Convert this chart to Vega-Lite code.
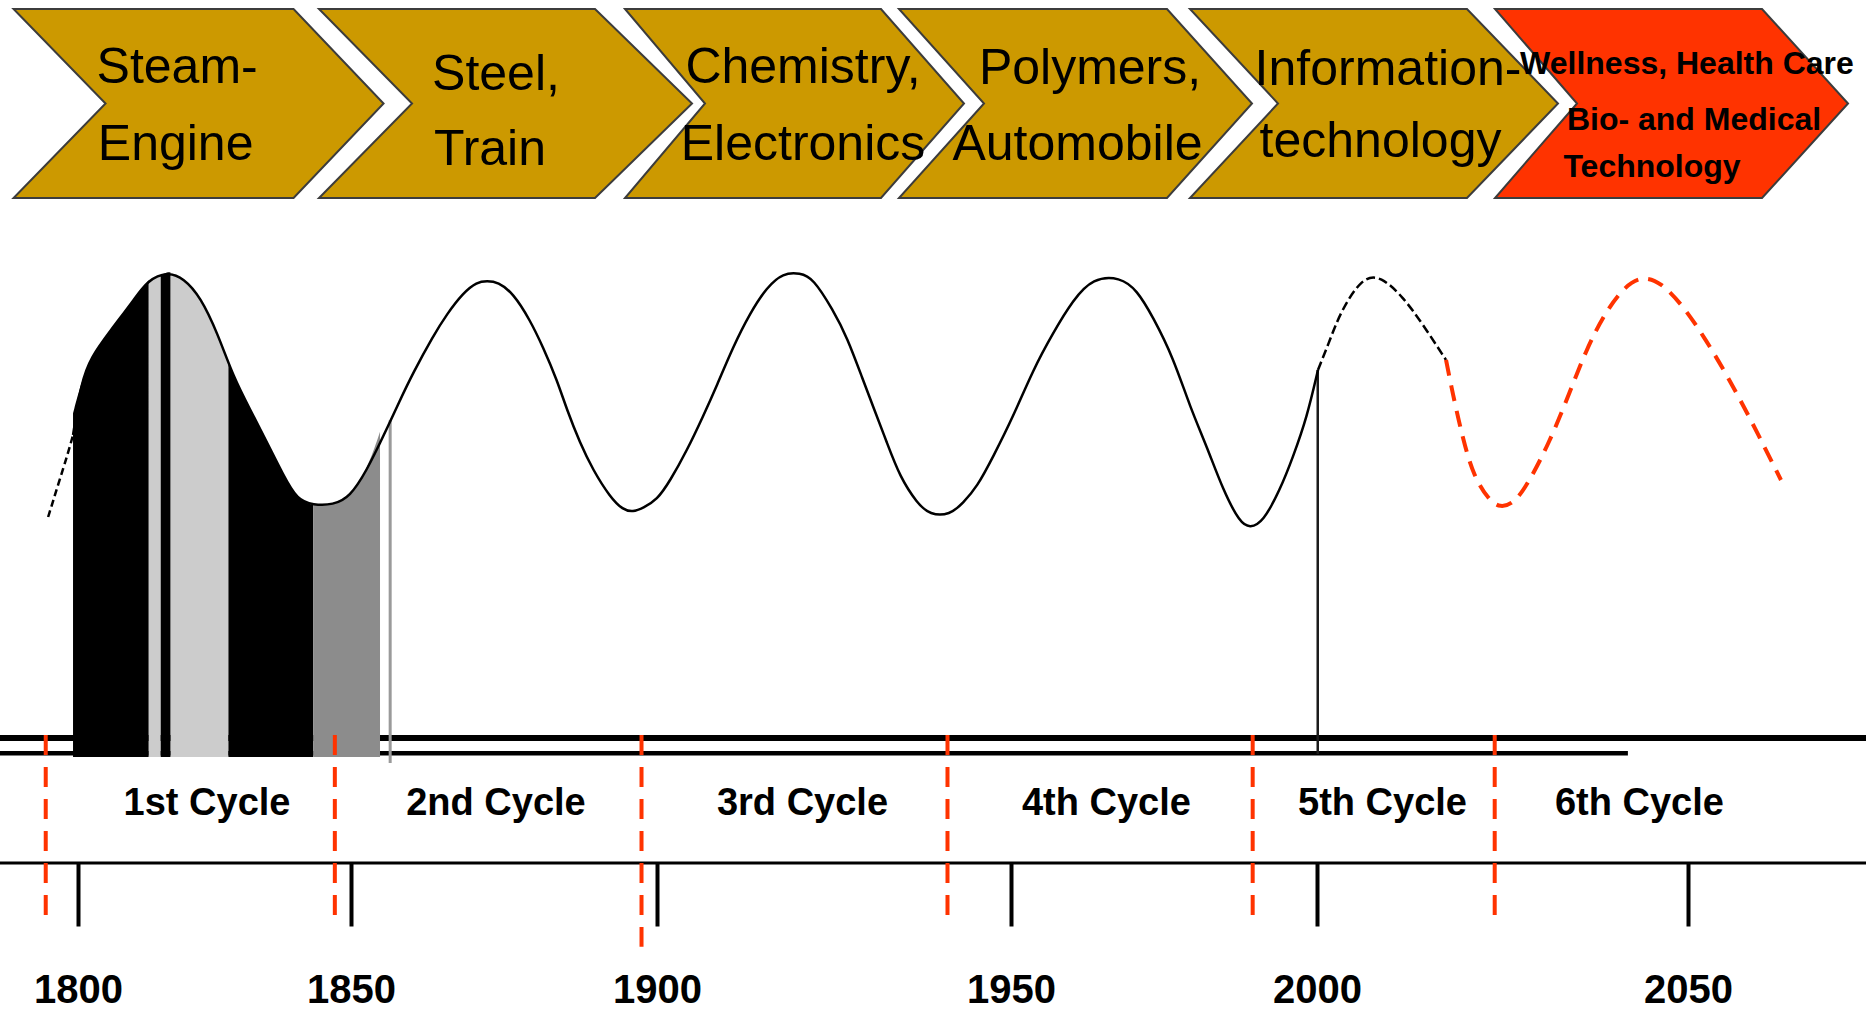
{
  "$schema": "https://vega.github.io/schema/vega-lite/v6.json",
  "width": 1866,
  "height": 1012,
  "autosize": {"type": "none"},
  "padding": 0,
  "background": "white",
  "config": {"view": {"stroke": null}},
  "datasets": {
    "wave": [
      {"year": 1794.53, "level": 47.63, "segment": "pre"},
      {"year": 1796.35, "level": 54.53, "segment": "pre"},
      {"year": 1798.18, "level": 61.42, "segment": "pre"},
      {"year": 1799.09, "level": 65.30, "segment": "pre"},
      {"year": 1799.09, "level": 65.30, "segment": "main"},
      {"year": 1800.55, "level": 76.51, "segment": "main"},
      {"year": 1802.37, "level": 82.11, "segment": "main"},
      {"year": 1806.02, "level": 87.93, "segment": "main"},
      {"year": 1810.22, "level": 94.40, "segment": "main"},
      {"year": 1812.77, "level": 98.71, "segment": "main"},
      {"year": 1816.42, "level": 100.43, "segment": "main"},
      {"year": 1819.34, "level": 99.14, "segment": "main"},
      {"year": 1822.45, "level": 95.04, "segment": "main"},
      {"year": 1825.55, "level": 87.28, "segment": "main"},
      {"year": 1828.47, "level": 77.80, "segment": "main"},
      {"year": 1831.57, "level": 70.69, "segment": "main"},
      {"year": 1834.67, "level": 63.58, "segment": "main"},
      {"year": 1837.59, "level": 56.68, "segment": "main"},
      {"year": 1840.15, "level": 51.29, "segment": "main"},
      {"year": 1843.07, "level": 50.22, "segment": "main"},
      {"year": 1846.72, "level": 50.22, "segment": "main"},
      {"year": 1849.82, "level": 51.94, "segment": "main"},
      {"year": 1852.61, "level": 57.76, "segment": "main"},
      {"year": 1855.23, "level": 64.87, "segment": "main"},
      {"year": 1858.01, "level": 72.84, "segment": "main"},
      {"year": 1860.13, "level": 78.66, "segment": "main"},
      {"year": 1863.40, "level": 86.60, "segment": "main"},
      {"year": 1865.69, "level": 91.40, "segment": "main"},
      {"year": 1868.30, "level": 95.91, "segment": "main"},
      {"year": 1870.59, "level": 98.28, "segment": "main"},
      {"year": 1872.22, "level": 98.49, "segment": "main"},
      {"year": 1874.02, "level": 98.28, "segment": "main"},
      {"year": 1876.47, "level": 95.91, "segment": "main"},
      {"year": 1879.25, "level": 90.09, "segment": "main"},
      {"year": 1881.37, "level": 84.27, "segment": "main"},
      {"year": 1883.66, "level": 77.16, "segment": "main"},
      {"year": 1885.29, "level": 70.69, "segment": "main"},
      {"year": 1887.42, "level": 63.58, "segment": "main"},
      {"year": 1889.54, "level": 57.76, "segment": "main"},
      {"year": 1892.32, "level": 51.94, "segment": "main"},
      {"year": 1894.44, "level": 49.14, "segment": "main"},
      {"year": 1896.08, "level": 48.71, "segment": "main"},
      {"year": 1897.71, "level": 49.57, "segment": "main"},
      {"year": 1900.00, "level": 51.29, "segment": "main"},
      {"year": 1901.84, "level": 55.40, "segment": "main"},
      {"year": 1904.24, "level": 62.00, "segment": "main"},
      {"year": 1906.50, "level": 69.30, "segment": "main"},
      {"year": 1908.47, "level": 76.00, "segment": "main"},
      {"year": 1910.73, "level": 84.27, "segment": "main"},
      {"year": 1913.14, "level": 91.59, "segment": "main"},
      {"year": 1915.54, "level": 97.20, "segment": "main"},
      {"year": 1917.80, "level": 100.22, "segment": "main"},
      {"year": 1920.20, "level": 100.22, "segment": "main"},
      {"year": 1922.03, "level": 99.14, "segment": "main"},
      {"year": 1924.86, "level": 92.24, "segment": "main"},
      {"year": 1926.84, "level": 86.42, "segment": "main"},
      {"year": 1929.10, "level": 77.16, "segment": "main"},
      {"year": 1930.51, "level": 71.50, "segment": "main"},
      {"year": 1932.49, "level": 63.58, "segment": "main"},
      {"year": 1934.32, "level": 56.25, "segment": "main"},
      {"year": 1936.72, "level": 50.65, "segment": "main"},
      {"year": 1938.56, "level": 48.06, "segment": "main"},
      {"year": 1941.38, "level": 48.06, "segment": "main"},
      {"year": 1943.22, "level": 50.65, "segment": "main"},
      {"year": 1945.20, "level": 54.09, "segment": "main"},
      {"year": 1947.46, "level": 60.56, "segment": "main"},
      {"year": 1950.33, "level": 69.18, "segment": "main"},
      {"year": 1953.59, "level": 79.31, "segment": "main"},
      {"year": 1956.86, "level": 87.28, "segment": "main"},
      {"year": 1960.13, "level": 94.40, "segment": "main"},
      {"year": 1963.40, "level": 99.14, "segment": "main"},
      {"year": 1967.81, "level": 99.35, "segment": "main"},
      {"year": 1970.59, "level": 96.55, "segment": "main"},
      {"year": 1973.20, "level": 90.73, "segment": "main"},
      {"year": 1976.47, "level": 82.11, "segment": "main"},
      {"year": 1979.25, "level": 71.34, "segment": "main"},
      {"year": 1982.03, "level": 62.72, "segment": "main"},
      {"year": 1984.64, "level": 53.45, "segment": "main"},
      {"year": 1987.42, "level": 46.34, "segment": "main"},
      {"year": 1989.05, "level": 45.26, "segment": "main"},
      {"year": 1991.18, "level": 46.55, "segment": "main"},
      {"year": 1993.95, "level": 53.45, "segment": "main"},
      {"year": 1996.08, "level": 60.56, "segment": "main"},
      {"year": 1998.37, "level": 69.18, "segment": "main"},
      {"year": 2000.13, "level": 79.31, "segment": "main"},
      {"year": 2000.13, "level": 79.31, "segment": "late"},
      {"year": 2001.75, "level": 85.78, "segment": "late"},
      {"year": 2003.10, "level": 91.59, "segment": "late"},
      {"year": 2006.06, "level": 99.35, "segment": "late"},
      {"year": 2008.63, "level": 99.57, "segment": "late"},
      {"year": 2011.59, "level": 95.04, "segment": "late"},
      {"year": 2014.15, "level": 89.44, "segment": "late"},
      {"year": 2017.39, "level": 81.47, "segment": "late"},
      {"year": 2017.39, "level": 81.47, "segment": "forecast"},
      {"year": 2018.19, "level": 75.00, "segment": "forecast"},
      {"year": 2019.68, "level": 64.22, "segment": "forecast"},
      {"year": 2021.16, "level": 56.25, "segment": "forecast"},
      {"year": 2023.18, "level": 51.29, "segment": "forecast"},
      {"year": 2024.66, "level": 49.57, "segment": "forecast"},
      {"year": 2026.68, "level": 50.65, "segment": "forecast"},
      {"year": 2028.71, "level": 55.60, "segment": "forecast"},
      {"year": 2031.27, "level": 63.58, "segment": "forecast"},
      {"year": 2033.83, "level": 73.49, "segment": "forecast"},
      {"year": 2036.25, "level": 83.62, "segment": "forecast"},
      {"year": 2038.81, "level": 91.59, "segment": "forecast"},
      {"year": 2041.37, "level": 97.20, "segment": "forecast"},
      {"year": 2043.80, "level": 99.57, "segment": "forecast"},
      {"year": 2046.36, "level": 98.28, "segment": "forecast"},
      {"year": 2049.46, "level": 92.89, "segment": "forecast"},
      {"year": 2052.43, "level": 85.78, "segment": "forecast"},
      {"year": 2055.39, "level": 77.80, "segment": "forecast"},
      {"year": 2058.49, "level": 68.53, "segment": "forecast"},
      {"year": 2062.53, "level": 55.60, "segment": "forecast"}
    ],
    "fills": [
      {"year": 1799.09, "level": 70.0, "band": "b1", "tone": "dark"},
      {"year": 1800.55, "level": 76.51, "band": "b1", "tone": "dark"},
      {"year": 1802.37, "level": 82.11, "band": "b1", "tone": "dark"},
      {"year": 1806.02, "level": 87.93, "band": "b1", "tone": "dark"},
      {"year": 1810.22, "level": 94.40, "band": "b1", "tone": "dark"},
      {"year": 1812.96, "level": 98.7, "band": "b1", "tone": "dark"},
      {"year": 1812.96, "level": 98.7, "band": "b2", "tone": "light"},
      {"year": 1815.15, "level": 99.8, "band": "b2", "tone": "light"},
      {"year": 1815.15, "level": 99.8, "band": "b3", "tone": "dark"},
      {"year": 1816.42, "level": 100.43, "band": "b3", "tone": "dark"},
      {"year": 1816.97, "level": 100.3, "band": "b3", "tone": "dark"},
      {"year": 1816.97, "level": 100.3, "band": "b4", "tone": "light"},
      {"year": 1819.34, "level": 99.14, "band": "b4", "tone": "light"},
      {"year": 1822.45, "level": 95.04, "band": "b4", "tone": "light"},
      {"year": 1825.55, "level": 87.28, "band": "b4", "tone": "light"},
      {"year": 1827.55, "level": 80.8, "band": "b4", "tone": "light"},
      {"year": 1827.55, "level": 80.8, "band": "b5", "tone": "dark"},
      {"year": 1828.47, "level": 77.80, "band": "b5", "tone": "dark"},
      {"year": 1831.57, "level": 70.69, "band": "b5", "tone": "dark"},
      {"year": 1834.67, "level": 63.58, "band": "b5", "tone": "dark"},
      {"year": 1837.59, "level": 56.68, "band": "b5", "tone": "dark"},
      {"year": 1840.15, "level": 51.29, "band": "b5", "tone": "dark"},
      {"year": 1843.07, "level": 50.22, "band": "b5", "tone": "dark"},
      {"year": 1843.07, "level": 50.22, "band": "b6", "tone": "mid"},
      {"year": 1846.72, "level": 50.22, "band": "b6", "tone": "mid"},
      {"year": 1849.82, "level": 51.94, "band": "b6", "tone": "mid"},
      {"year": 1852.61, "level": 57.76, "band": "b6", "tone": "mid"},
      {"year": 1854.74, "level": 66.0, "band": "b6", "tone": "mid"}
    ],
    "hlines": [
      {"year": 1780, "yearEnd": 2080, "level": 0, "kind": "thick"},
      {"year": 1780, "yearEnd": 2041.9, "level": -3.3, "kind": "thin"},
      {"year": 1780, "yearEnd": 2080, "level": -26.94, "kind": "base"}
    ],
    "boundaries": [
      {"year": 1794.09, "level": 0.65, "bottom": -40.7},
      {"year": 1847.04, "level": 0.65, "bottom": -40.7},
      {"year": 1897.47, "level": 0.65, "bottom": -45.0},
      {"year": 1941.03, "level": 0.65, "bottom": -40.7},
      {"year": 1989.49, "level": 0.65, "bottom": -40.7},
      {"year": 2023.95, "level": 0.65, "bottom": -40.7}
    ],
    "markers": [
      {"year": 1856.4, "level": 68.5, "bottom": -5.39, "kind": "grey"},
      {"year": 2000.1, "level": 79.31, "bottom": -3.45, "kind": "black"}
    ],
    "chevrons": [
      {"name": "Steam-Engine", "year": 1822.08, "level": 136.75},
      {"name": "Steel, Train", "year": 1875.25, "level": 136.75},
      {"name": "Chemistry, Electronics", "year": 1919.42, "level": 136.75},
      {"name": "Polymers, Automobile", "year": 1960.54, "level": 136.75},
      {"name": "Information-technology", "year": 2007.68, "level": 136.75},
      {"name": "Wellness, Health Care", "year": 2047.78, "level": 136.75}
    ],
    "chevronText": [
      {"text": "Steam-", "year": 1818.16, "level": 141.16, "group": "era"},
      {"text": "Engine", "year": 1817.88, "level": 124.57, "group": "era"},
      {"text": "Steel,", "year": 1873.69, "level": 139.66, "group": "era"},
      {"text": "Train", "year": 1872.71, "level": 123.49, "group": "era"},
      {"text": "Chemistry,", "year": 1920.62, "level": 141.16, "group": "era"},
      {"text": "Electronics", "year": 1920.62, "level": 124.57, "group": "era"},
      {"text": "Polymers,", "year": 1962.91, "level": 140.95, "group": "era"},
      {"text": "Automobile", "year": 1960.87, "level": 124.57, "group": "era"},
      {"text": "Information-", "year": 2009.57, "level": 140.73, "group": "era"},
      {"text": "technology", "year": 2008.56, "level": 125.22, "group": "era"},
      {"text": "Wellness, Health Care", "year": 2049.86, "level": 143.10, "group": "future"},
      {"text": "Bio- and Medical", "year": 2050.81, "level": 131.03, "group": "future"},
      {"text": "Technology", "year": 2045.15, "level": 120.91, "group": "future"}
    ],
    "cycles": [
      {"text": "1st Cycle", "year": 1823.63, "level": -16.6},
      {"text": "2nd Cycle", "year": 1873.69, "level": -16.6},
      {"text": "3rd Cycle", "year": 1920.55, "level": -16.6},
      {"text": "4th Cycle", "year": 1965.60, "level": -16.6},
      {"text": "5th Cycle", "year": 2008.83, "level": -16.6},
      {"text": "6th Cycle", "year": 2043.46, "level": -16.6}
    ]
  },
  "encoding": {
    "x": {
      "field": "year",
      "type": "quantitative",
      "scale": {"domain": [1800, 1850, 1900, 1950, 2000, 2050], "range": [78, 351, 657, 1011, 1317, 1688], "nice": false, "zero": false},
      "axis": {
        "orient": "bottom",
        "offset": -149,
        "values": [1800, 1850, 1900, 1950, 2000, 2050],
        "format": "d",
        "title": null,
        "domain": false,
        "grid": false,
        "ticks": true,
        "tickSize": 63,
        "tickWidth": 4,
        "tickColor": "#000000",
        "labelFont": "Liberation Sans, Arial, sans-serif",
        "labelFontSize": 40,
        "labelFontWeight": "bold",
        "labelColor": "#000000",
        "labelPadding": 44,
        "labelBaseline": "top",
        "labelFlush": false,
        "labelOverlap": false
      }
    },
    "y": {
      "field": "level",
      "type": "quantitative",
      "scale": {"domain": [0, 100], "range": [738, 274], "nice": false, "zero": false},
      "axis": null
    }
  },
  "layer": [
    {
      "data": {"name": "hlines"},
      "mark": {"type": "rule", "color": "#000000"},
      "encoding": {
        "x2": {"field": "yearEnd"},
        "strokeWidth": {"field": "kind", "type": "nominal", "scale": {"domain": ["thick", "thin", "base"], "range": [6, 3, 4]}, "legend": null}
      }
    },
    {
      "data": {"name": "fills"},
      "mark": {"type": "area", "interpolate": "basis"},
      "encoding": {
        "y": {"field": "level", "type": "quantitative", "stack": null, "scale": {"domain": [0, 100], "range": [738, 274], "nice": false, "zero": false}, "axis": null},
        "y2": {"datum": -4.09},
        "color": {"field": "tone", "type": "nominal", "scale": {"domain": ["dark", "light", "mid"], "range": ["#000000", "#cccccc", "#8c8c8c"]}, "legend": null},
        "detail": {"field": "band"}
      }
    },
    {
      "data": {"name": "markers"},
      "transform": [{"filter": "datum.kind === 'grey'"}],
      "mark": {"type": "rule", "color": "#9a9a9a", "strokeWidth": 3},
      "encoding": {"y2": {"field": "bottom"}}
    },
    {
      "data": {"name": "markers"},
      "transform": [{"filter": "datum.kind === 'black'"}],
      "mark": {"type": "rule", "color": "#1a1a1a", "strokeWidth": 2.5},
      "encoding": {"y2": {"field": "bottom"}}
    },
    {
      "data": {"name": "boundaries"},
      "mark": {"type": "rule", "color": "#ff3300", "strokeWidth": 4, "strokeDash": [20, 12]},
      "encoding": {"y2": {"field": "bottom"}}
    },
    {
      "data": {"name": "wave"},
      "transform": [{"filter": "datum.segment === 'pre'"}],
      "mark": {"type": "line", "color": "#000000", "strokeWidth": 2.5, "strokeDash": [7, 4], "interpolate": "basis"},
      "encoding": {}
    },
    {
      "data": {"name": "wave"},
      "transform": [{"filter": "datum.segment === 'main'"}],
      "mark": {"type": "line", "color": "#000000", "strokeWidth": 2.5, "interpolate": "basis"},
      "encoding": {}
    },
    {
      "data": {"name": "wave"},
      "transform": [{"filter": "datum.segment === 'late'"}],
      "mark": {"type": "line", "color": "#000000", "strokeWidth": 2.5, "strokeDash": [9, 4], "interpolate": "basis"},
      "encoding": {}
    },
    {
      "data": {"name": "wave"},
      "transform": [{"filter": "datum.segment === 'forecast'"}],
      "mark": {"type": "line", "color": "#ff3300", "strokeWidth": 4, "strokeDash": [16, 10], "interpolate": "basis"},
      "encoding": {}
    },
    {
      "data": {"name": "chevrons"},
      "mark": {"type": "point", "filled": true, "opacity": 1, "stroke": "#3c3c3c", "strokeWidth": 2, "size": 40000},
      "encoding": {
        "shape": {
          "field": "name",
          "type": "nominal",
          "scale": {
            "domain": ["Steam-Engine", "Steel, Train", "Chemistry, Electronics", "Polymers, Automobile", "Information-technology", "Wellness, Health Care"],
            "range": [
              "M-1.85,-0.945L0.95,-0.945L1.85,0L0.95,0.945L-1.85,0.945L-0.93,0Z",
              "M-1.865,-0.945L0.895,-0.945L1.865,0L0.895,0.945L-1.865,0.945L-0.935,0Z",
              "M-1.695,-0.945L0.865,-0.945L1.695,0L0.865,0.945L-1.695,0.945L-0.895,0Z",
              "M-1.765,-0.945L0.915,-0.945L1.765,0L0.915,0.945L-1.765,0.945L-0.915,0Z",
              "M-1.84,-0.945L0.93,-0.945L1.84,0L0.93,0.945L-1.84,0.945L-0.96,0Z",
              "M-1.765,-0.945L0.905,-0.945L1.765,0L0.905,0.945L-1.765,0.945L-0.945,0Z"
            ]
          },
          "legend": null
        },
        "fill": {
          "field": "name",
          "type": "nominal",
          "scale": {
            "domain": ["Steam-Engine", "Steel, Train", "Chemistry, Electronics", "Polymers, Automobile", "Information-technology", "Wellness, Health Care"],
            "range": ["#cc9900", "#cc9900", "#cc9900", "#cc9900", "#cc9900", "#ff3300"]
          },
          "legend": null
        }
      }
    },
    {
      "data": {"name": "chevronText"},
      "transform": [{"filter": "datum.group === 'era'"}],
      "mark": {"type": "text", "align": "center", "baseline": "alphabetic", "font": "Liberation Sans, Arial, sans-serif", "fontSize": 50, "color": "#000000"},
      "encoding": {"text": {"field": "text"}}
    },
    {
      "data": {"name": "chevronText"},
      "transform": [{"filter": "datum.group === 'future'"}],
      "mark": {"type": "text", "align": "center", "baseline": "alphabetic", "font": "Liberation Sans, Arial, sans-serif", "fontSize": 32, "fontWeight": "bold", "color": "#000000"},
      "encoding": {"text": {"field": "text"}}
    },
    {
      "data": {"name": "cycles"},
      "mark": {"type": "text", "align": "center", "baseline": "alphabetic", "font": "Liberation Sans, Arial, sans-serif", "fontSize": 38, "fontWeight": "bold", "color": "#000000"},
      "encoding": {"text": {"field": "text"}}
    }
  ]
}
